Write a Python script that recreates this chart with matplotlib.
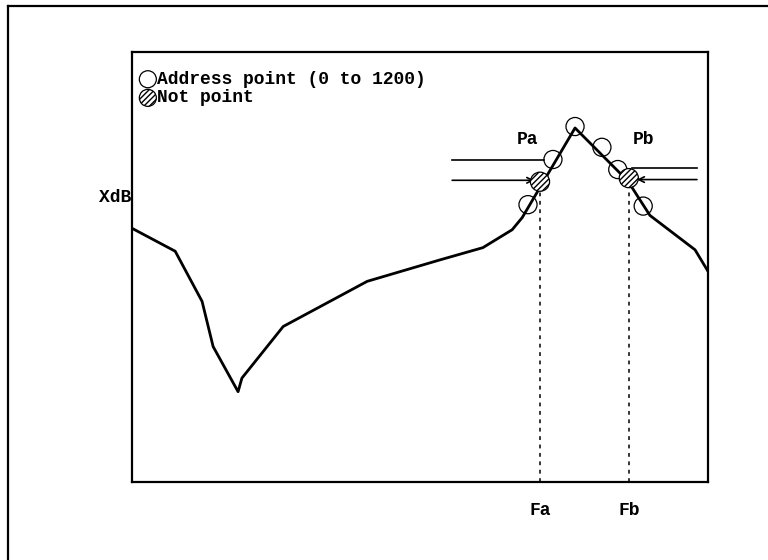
import matplotlib.pyplot as plt
from matplotlib.lines import Line2D

# response curve, x = address (0..1200), y = level in dB
curve_x = [0, 90, 146, 169, 221, 229, 315, 490, 642, 731, 792, 813, 923, 1033, 1079, 1173, 1200]
curve_y = [35.4, 32.2, 25.2, 18.9, 12.6, 14.5, 21.7, 28.0, 31.0, 32.7, 35.2, 36.9, 49.4, 42.0, 37.2, 32.4, 29.4]

# sampled address points around the peak
addr_x = [825, 877, 923, 979, 1012, 1065]
addr_y = [38.7, 45.0, 49.6, 46.7, 43.6, 38.5]

# interpolated points at X dB
not_x = [850, 1035]
not_y = [41.9, 42.4]

fa, fb = not_x

plt.rcParams['font.family'] = ['Liberation Mono', 'DejaVu Sans Mono']
plt.rcParams['font.weight'] = 'bold'

fig = plt.figure(figsize=(7.68, 5.6), dpi=100)
ax = fig.add_axes([132 / 768, 1 - 482 / 560, 576 / 768, 430 / 560])
ax.set_xlim(0, 1200)
ax.set_ylim(0, 60)
ax.set_xticks([])
ax.set_yticks([])
for s in ax.spines.values():
    s.set_linewidth(1.6)

# outer frame (open on the right and bottom)
fig.add_artist(Line2D([8 / 768, 8 / 768], [0, 1 - 6 / 560], color='k', lw=1.6))
fig.add_artist(Line2D([8 / 768, 1], [1 - 6 / 560, 1 - 6 / 560], color='k', lw=1.6))

ax.plot(curve_x, curve_y, color='k', lw=2.0, zorder=3)

ax.scatter(addr_x, addr_y, s=170, facecolors='none', edgecolors='k', linewidths=0.9, zorder=4)
ax.scatter(not_x, not_y, s=190, facecolors='white', edgecolors='k', hatch='//////',
           linewidths=0.9, zorder=5)

# dashed drop lines to the frequency axis
for f, y in zip(not_x, not_y):
    ax.plot([f, f], [0, y - 1.5], color='k', lw=1.1, ls=(0, (2.5, 3)), zorder=2)

# X dB reference lines
ax.plot([667, 858], [44.9, 44.9], color='k', lw=1.2, zorder=2)
ax.annotate('', xy=(838, 42.1), xytext=(667, 42.1),
            arrowprops=dict(arrowstyle='->', lw=1.2, color='k', shrinkA=0, shrinkB=0))
ax.plot([1042, 1177], [43.8, 43.8], color='k', lw=1.2, zorder=2)
ax.annotate('', xy=(1052, 42.2), xytext=(1177, 42.2),
            arrowprops=dict(arrowstyle='->', lw=1.2, color='k', shrinkA=0, shrinkB=0))

ax.text(823, 47.8, 'Pa', ha='center', va='center', fontsize=13)
ax.text(1065, 47.8, 'Pb', ha='center', va='center', fontsize=13)
ax.text(-1, 39.7, 'XdB', ha='right', va='center', fontsize=13, clip_on=False)
ax.text(fa, -4, 'Fa', ha='center', va='center', fontsize=13, clip_on=False)
ax.text(fb, -4, 'Fb', ha='center', va='center', fontsize=13, clip_on=False)

# legend
ax.scatter([33], [56.2], s=150, facecolors='none', edgecolors='k', linewidths=0.9)
ax.scatter([33], [53.6], s=150, facecolors='white', edgecolors='k', hatch='//////', linewidths=0.9)
ax.text(52, 56.2, 'Address point (0 to 1200)', ha='left', va='center', fontsize=13)
ax.text(52, 53.6, 'Not point', ha='left', va='center', fontsize=13)

fig.savefig('out.png', dpi=100)
